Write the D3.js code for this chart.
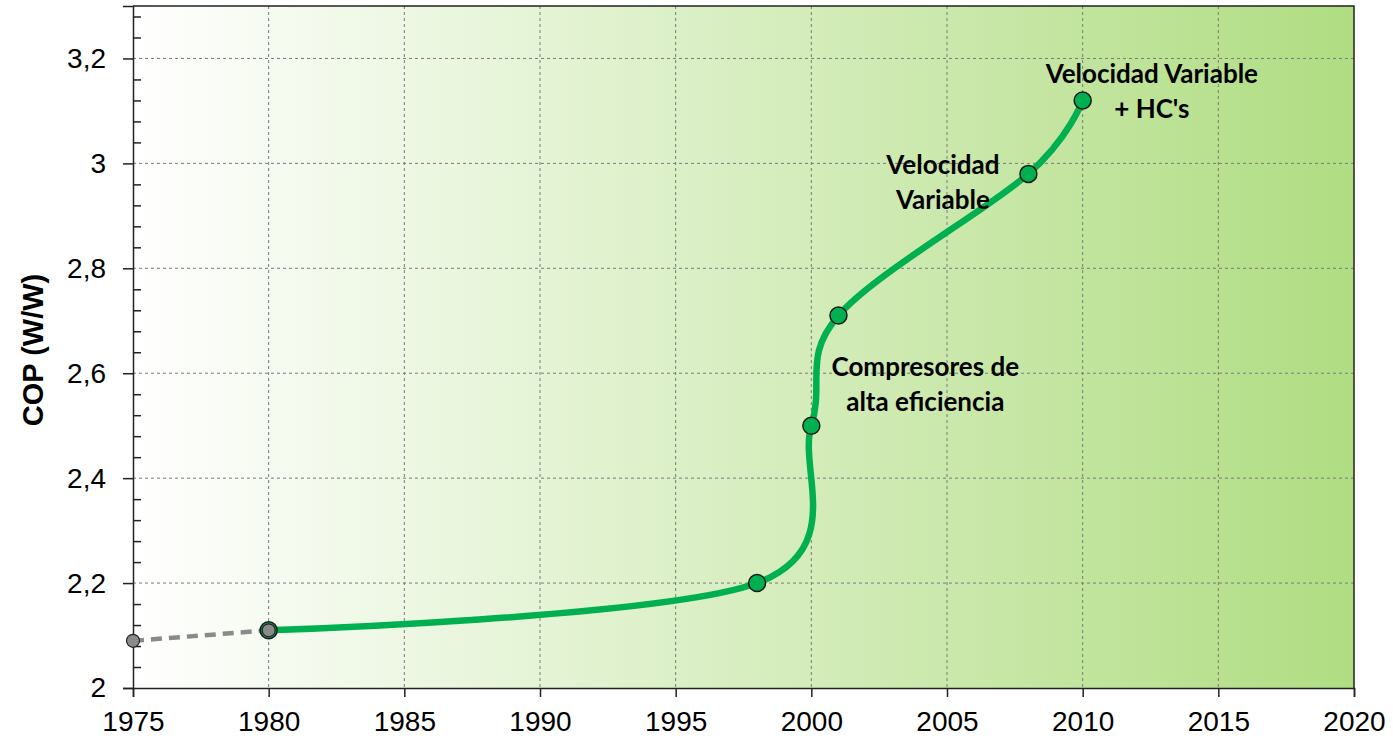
<!DOCTYPE html>
<meta charset="UTF-8">
<title>COP</title>
<style>
  body { margin: 0; background: #fff; }
  svg { display: block; }
  .tick text { font-family: "Liberation Sans", Arial, sans-serif; font-size: 28px; fill: #000; }
  .note { font-family: Lato, "Open Sans", sans-serif; font-weight: bold; font-size: 26px; fill: #000; }
</style>
<script src="https://d3js.org/d3.v7.min.js"></script>
<body>
<script>
  // data
  var years = [1980, 1998, 2000, 2001, 2008, 2010];
  var cop = [2.11, 2.20, 2.50, 2.71, 2.98, 3.12];
  var earlyYears = [1975, 1980];
  var earlyCop = [2.09, 2.11];
  var xTicks = [1975, 1980, 1985, 1990, 1995, 2000, 2005, 2010, 2015, 2020];
  var yTicks = [2, 2.2, 2.4, 2.6, 2.8, 3, 3.2];
  var noteLines = [["Velocidad Variable", "+ HC's"], ["Velocidad", "Variable"], ["Compresores de", "alta eficiencia"]];
  var noteYear = [2012.55, 2004.85, 2004.2];
  var noteCop = [3.153, 2.980, 2.594];

  var W = 1393, H = 738;
  var m = {left: 133, right: 39, top: 6, bottom: 50};

  var svg = d3.select("body").append("svg").attr("width", W).attr("height", H);

  var x = d3.scaleLinear().domain([1975, 2020]).range([m.left, W - m.right]);
  var y = d3.scaleLinear().domain([2, 3.3]).range([H - m.bottom, m.top]);

  var grad = svg.append("defs").append("linearGradient").attr("id", "bg")
    .attr("x1", "0%").attr("x2", "100%").attr("y1", "0%").attr("y2", "0%");
  grad.append("stop").attr("offset", "0%").attr("stop-color", "#ffffff");
  grad.append("stop").attr("offset", "100%").attr("stop-color", "#b0dd82");

  svg.append("rect")
    .attr("x", x(1975)).attr("y", y(3.3))
    .attr("width", x(2020) - x(1975)).attr("height", y(2) - y(3.3))
    .attr("fill", "url(#bg)");

  // grid
  var grid = svg.append("g").attr("stroke", "#7a7a7a").attr("stroke-width", 1).attr("stroke-dasharray", "3,3");
  grid.selectAll(".gx").data(xTicks.slice(1, -1)).enter().append("line")
    .attr("x1", function(d) { return x(d); }).attr("x2", function(d) { return x(d); })
    .attr("y1", y(3.3)).attr("y2", y(2));
  grid.selectAll(".gy").data(yTicks.slice(1)).enter().append("line")
    .attr("x1", x(1975)).attr("x2", x(2020))
    .attr("y1", function(d) { return y(d); }).attr("y2", function(d) { return y(d); });

  // axes
  svg.append("g").attr("transform", "translate(0," + y(2) + ")")
    .call(d3.axisBottom(x).tickValues(xTicks).tickFormat(d3.format("d")).tickSize(9).tickPadding(14));
  svg.append("g").attr("transform", "translate(" + x(1975) + ",0)")
    .call(d3.axisLeft(y).tickValues(yTicks).tickFormat(function(d) { return String(d).replace(".", ","); }).tickSize(10).tickPadding(17));
  // minor y ticks, inside
  svg.append("g").attr("transform", "translate(" + x(1975) + ",0)")
    .call(d3.axisRight(y).tickValues(d3.range(2.04, 3.3, 0.04).filter(function(v) {
      return Math.abs(v * 5 - Math.round(v * 5)) > 0.01; })).tickSize(8).tickFormat(""))
    .select(".domain").remove();
  svg.selectAll(".domain").attr("stroke", "#222").attr("stroke-width", 1.5);
  svg.selectAll(".tick line").attr("stroke", "#222").attr("stroke-width", 1.5);

  // frame top/right
  svg.append("path")
    .attr("d", "M" + x(1975) + "," + y(3.3) + "H" + x(2020) + "V" + y(2))
    .attr("fill", "none").attr("stroke", "#222").attr("stroke-width", 1.5);

  svg.append("text")
    .attr("transform", "translate(43," + ((y(2) + y(3.3)) / 2 + 3) + ") rotate(-90)")
    .attr("text-anchor", "middle")
    .style("font-family", "'Liberation Sans', Arial, sans-serif")
    .style("font-weight", "bold").style("font-size", "29px")
    .text("COP (W/W)");

  // early dashed segment
  svg.append("path")
    .datum(earlyYears.map(function(d, i) { return [d, earlyCop[i]]; }))
    .attr("d", d3.line().x(function(d) { return x(d[0]); }).y(function(d) { return y(d[1]); }))
    .attr("fill", "none").attr("stroke", "#8a8a8a").attr("stroke-width", 4.5)
    .attr("stroke-dasharray", "11,7");

  var pts = years.map(function(d, i) { return [d, cop[i]]; });
  svg.append("path")
    .datum(pts)
    .attr("d", d3.line().curve(d3.curveCardinal.tension(0))
      .x(function(d) { return x(d[0]); }).y(function(d) { return y(d[1]); }))
    .attr("fill", "none").attr("stroke", "#00b050").attr("stroke-width", 6.5)
    .attr("stroke-linecap", "round");

  svg.selectAll(".dot").data(pts).enter().append("circle")
    .attr("cx", function(d) { return x(d[0]); }).attr("cy", function(d) { return y(d[1]); })
    .attr("r", 8.5).attr("fill", "#00b050").attr("stroke", "#1a1a1a").attr("stroke-width", 1.5);

  svg.selectAll(".gdot").data(earlyYears).enter().append("circle")
    .attr("cx", function(d) { return x(d); }).attr("cy", function(d, i) { return y(earlyCop[i]); })
    .attr("r", 6.5)
    .attr("fill", "#8a8a8a").attr("stroke", "#222").attr("stroke-width", 1.2);

  // annotations
  noteLines.forEach(function(lines, i) {
    var t = svg.append("text").attr("class", "note").attr("text-anchor", "middle")
      .attr("x", x(noteYear[i])).attr("y", y(noteCop[i]));
    lines.forEach(function(s, j) {
      t.append("tspan").attr("x", x(noteYear[i])).attr("dy", j ? 35 : 0).text(s);
    });
  });
</script>
</body>
